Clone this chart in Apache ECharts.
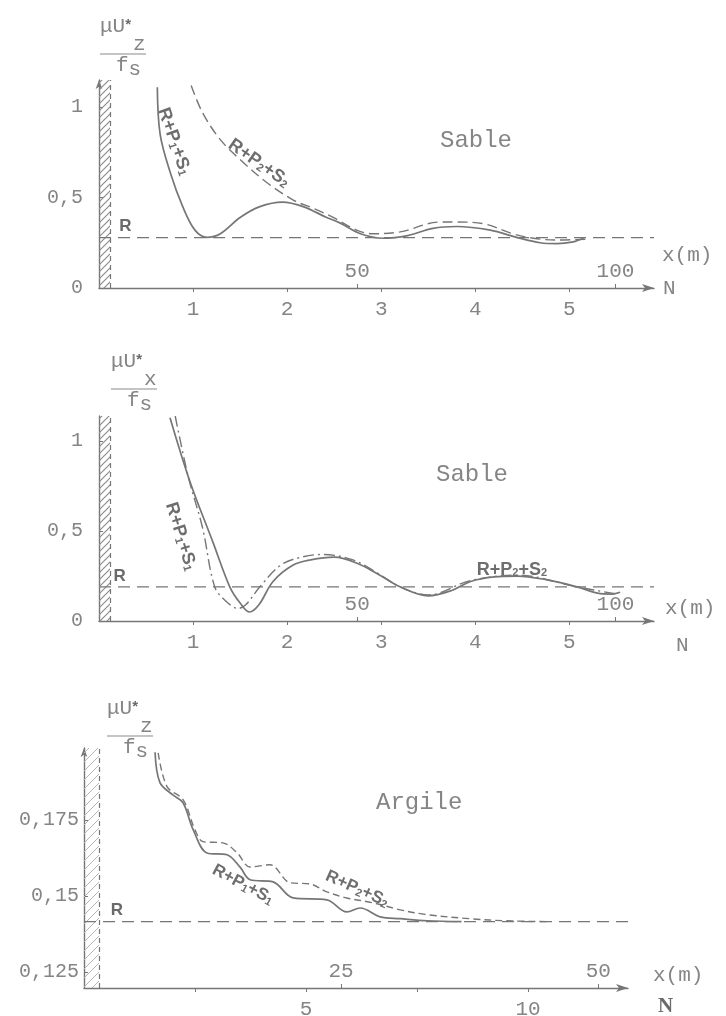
<!DOCTYPE html>
<html><head><meta charset="utf-8">
<script src="https://cdn.jsdelivr.net/npm/echarts@6/dist/echarts.min.js"></script>
<style>html,body{margin:0;padding:0;background:#fff}#c{width:726px;height:1016px}</style>
</head><body><div id="c"></div>
<script>
// ---------------- DATA ----------------
// Panel 1 : Sable, mu*Uz/fs  vs N
const p1SolidN = [0.62,0.65,0.76,0.89,1.02,1.15,1.29,1.5,1.71,1.95,2.17,2.42,2.56,2.78,3.02,3.28,3.55,3.8,4.16,4.44,4.69,4.87,5.04,5.15];
const p1SolidV = [1.11,0.85,0.635,0.45,0.32,0.28,0.30,0.39,0.45,0.475,0.45,0.39,0.36,0.30,0.275,0.29,0.33,0.34,0.32,0.28,0.25,0.245,0.255,0.275];
const p1DashN  = [0.98,1.1,1.29,1.5,1.78,2.07,2.28,2.49,2.74,2.91,3.2,3.63,3.8,4.09,4.4,4.62,4.87,5.19];
const p1DashV  = [1.12,0.97,0.82,0.71,0.585,0.485,0.44,0.39,0.32,0.30,0.31,0.365,0.365,0.355,0.30,0.275,0.265,0.27];
const p1R = 0.278;
// Panel 2 : Sable, mu*Ux/fs vs N
const p2SolidN = [0.755,0.97,1.21,1.39,1.5,1.6,1.7,1.85,2.06,2.25,2.5,2.75,3.0,3.2,3.5,3.75,3.95,4.2,4.45,4.75,5.08,5.3,5.45,5.54];
const p2SolidV = [1.13,0.77,0.44,0.19,0.10,0.05,0.09,0.22,0.31,0.34,0.355,0.32,0.25,0.19,0.14,0.17,0.22,0.245,0.25,0.23,0.19,0.155,0.15,0.16];
const p2DashN  = [0.81,0.95,1.1,1.23,1.35,1.48,1.56,1.71,1.93,2.15,2.38,2.7,2.95,3.2,3.5,3.95,4.45,5.08,5.5];
const p2DashV  = [1.14,0.80,0.52,0.19,0.11,0.07,0.09,0.19,0.31,0.355,0.37,0.34,0.27,0.19,0.145,0.225,0.255,0.19,0.15];
const p2R = 0.19;
// Panel 3 : Argile, mu*Uz/fs vs N
const p3SolidN = [1.6,1.71,2.0,2.23,2.46,2.77,3.22,3.51,3.74,4.26,4.71,5.47,5.92,6.22,6.67,7.12,7.73,8.5];
const p3SolidV = [0.1972,0.1872,0.1832,0.1806,0.1717,0.1641,0.1635,0.1595,0.1553,0.1546,0.1493,0.1487,0.1447,0.146,0.1431,0.1425,0.1418,0.1415];
const p3DashN  = [1.67,1.87,2.23,2.5,2.68,3.13,3.45,3.74,4.19,4.64,5.09,5.47,5.92,6.51,7.12,7.73,8.76,9.5,10.5];
const p3DashV  = [0.197,0.1859,0.1816,0.1717,0.1678,0.1674,0.1641,0.1595,0.1602,0.1543,0.1539,0.1513,0.1493,0.1477,0.1454,0.1438,0.1424,0.1418,0.1415];
const p3R = 0.1415;
// tick values
const p1NTicks = [1,2,3,4,5];
const p1MTicks = [50,100];
const p1YTicks = [0,0.5,1];
const p2NTicks = [1,2,3,4,5];
const p2MTicks = [50,100];
const p2YTicks = [0,0.5,1];
const p3NTicks = [2.5,5,7.5,10];
const p3NLabels = [5,10];
const p3MTicks = [25,50];
const p3YTicks = [0.125,0.15,0.175];
const titles = ['Sable','Sable','Argile'];
const metresPerN = [50/2.745, 50/2.745, 25/5.79];

// ---------------- STYLE ----------------
const MONO = 'Liberation Mono';
const SANS = 'Liberation Sans';
const INK = '#767676';
const TXT = '#858585';

function zip(a,b){return a.map((x,i)=>[x,b[i]]);}
function hatch(color, step, w){
  const c=document.createElement('canvas'); c.width=step; c.height=step;
  const g=c.getContext('2d'); g.strokeStyle=color; g.lineWidth=w;
  g.beginPath(); g.moveTo(0,step); g.lineTo(step,0);
  g.moveTo(-step/2,step/2); g.lineTo(step/2,-step/2);
  g.moveTo(step/2,step*1.5); g.lineTo(step*1.5,step/2);
  g.stroke(); return c;
}
const fmtComma = v => String(+v.toFixed(3)).replace('.',',');

function fracName(sub, dx){
  return {
    name: '{mu|μU}{st|*}\n{z|'+sub+'}\n{bar|}\n{f|f}{s|s}',
    nameTextStyle: {
      align:'left', verticalAlign:'bottom', padding:[0,0,0,dx],
      rich: {
        mu:{fontFamily:MONO,fontSize:21,color:TXT,lineHeight:20,verticalAlign:'bottom'},
        st:{fontFamily:SANS,fontSize:15,fontWeight:'bold',color:'#6a6a6a',lineHeight:20,verticalAlign:'top'},
        z:{fontFamily:MONO,fontSize:21,color:TXT,lineHeight:14,padding:[0,0,0,33]},
        bar:{width:46,height:1,backgroundColor:'#8a8a8a',lineHeight:6},
        f:{fontFamily:MONO,fontSize:21,color:TXT,lineHeight:16,padding:[0,0,0,16]},
        s:{fontFamily:MONO,fontSize:21,color:TXT,lineHeight:16,padding:[9,0,0,0]}
      }
    }
  };
}
const curveLabelRich = {
  b:{fontFamily:SANS,fontSize:11,fontWeight:'bold',color:'#6e6e6e',padding:[7,0,0,0]}
};
function curveLabel(text, coord, rot, size){
  return {
    symbolSize:0, silent:true, animation:false,
    data:[{coord:coord, symbol:'circle', symbolSize:0}],
    label:{show:true, position:'inside', rotate:rot, formatter:text,
      fontFamily:SANS, fontWeight:'bold', fontSize:size||18, color:'#6e6e6e', rich:curveLabelRich}
  };
}

const grids = [
  {left:99, top:80, width:555, height:208},
  {left:99, top:416, width:555, height:205},
  {left:84, top:748, width:544, height:240}
];
const xMax = [5.9, 5.9, 12.25];
const yMin = [0, 0, 0.1197];
const yMax = [1.15, 1.14, 0.1986];
const wallW = [0.117, 0.117, 0.34];

const axisLineStyle = {color:INK, width:1.4};
const xAxes = [], yAxes = [], series = [];

// ---------- panel axes ----------
const nTicks = [p1NTicks, p2NTicks, p3NTicks];
const nLabels = [p1NTicks, p2NTicks, p3NLabels];
const mTicks = [p1MTicks, p2MTicks, p3MTicks];
const yTicks = [p1YTicks, p2YTicks, p3YTicks];
const nName = [
  {nameGap:9, nameTextStyle:{fontFamily:MONO,fontSize:21,color:TXT,align:'left',verticalAlign:'middle'}},
  {nameGap:22, nameTextStyle:{fontFamily:MONO,fontSize:21,color:TXT,align:'left',verticalAlign:'top',padding:[14,0,0,0]}},
  {nameGap:30, nameTextStyle:{fontFamily:'Liberation Serif',fontWeight:'bold',fontSize:21,color:'#6a6a6a',align:'left',verticalAlign:'top',padding:[8,0,0,0]}}
];
const mName = [
  {nameGap:8, nameTextStyle:{fontFamily:MONO,fontSize:21,color:TXT,align:'left',verticalAlign:'bottom',padding:[0,0,22,0]}},
  {nameGap:11, nameTextStyle:{fontFamily:MONO,fontSize:21,color:TXT,align:'left',verticalAlign:'bottom',padding:[0,0,2,0]}},
  {nameGap:25, nameTextStyle:{fontFamily:MONO,fontSize:21,color:TXT,align:'left',verticalAlign:'bottom',padding:[0,0,2,0]}}
];
const yNames = [fracName('z',1), fracName('x',12), fracName('z',23)];
const yNameGap = [7, 8, -7];

for (let i=0;i<3;i++){
  xAxes.push(Object.assign({
    type:'value', gridIndex:i, min:0, max:xMax[i], name:'N', nameLocation:'end',
    axisLine:{show:true, lineStyle:axisLineStyle, symbol:['none','arrow'], symbolSize:[6,12]},
    axisTick:{show:true, length:4, customValues:nTicks[i], lineStyle:{color:INK}},
    axisLabel:{show:true, customValues:nLabels[i], margin:11, fontFamily:MONO, fontSize:21, color:TXT},
    splitLine:{show:false}
  }, nName[i]));
  xAxes.push(Object.assign({
    type:'value', gridIndex:i, min:0, max:xMax[i]*metresPerN[i], name:'x(m)', nameLocation:'end',
    position:'bottom',
    axisLine:{show:false},
    axisTick:{show:true, inside:true, length:4, customValues:mTicks[i], lineStyle:{color:INK}},
    axisLabel:{show:true, inside:true, margin:6, customValues:mTicks[i], fontFamily:MONO, fontSize:21, color:TXT},
    splitLine:{show:false}
  }, mName[i]));
  yAxes.push(Object.assign({
    type:'value', gridIndex:i, min:yMin[i], max:yMax[i], nameLocation:'end', nameGap:yNameGap[i],
    axisLine:{show:true, lineStyle:axisLineStyle, symbol: i===1?['none','none']:['none','arrow'], symbolSize:[5,9]},
    axisTick:{show:true, length:4, inside:true, customValues:yTicks[i], lineStyle:{color:INK}},
    axisLabel:{show:true, customValues:yTicks[i], margin: i===2?5:16, fontFamily:MONO, fontSize:20, color:TXT,
      formatter: v => fmtComma(v)},
    splitLine:{show:false}
  }, yNames[i]));
}

// ---------- panel series ----------
const solids = [[p1SolidN,p1SolidV],[p2SolidN,p2SolidV],[p3SolidN,p3SolidV]];
const dashes = [[p1DashN,p1DashV],[p2DashN,p2DashV],[p3DashN,p3DashV]];
const Rs = [p1R,p2R,p3R];
const dashTypes = [[10,5],[11,4,2,4],[7,4]];
const lbl1 = 'R+P{b|1}+S{b|1}', lbl2 = 'R+P{b|2}+S{b|2}';
const solidLabels = [
  curveLabel(lbl1,[0.80,0.81],-71,18),
  curveLabel(lbl1,[0.87,0.47],-73,18),
  curveLabel(lbl1,[3.58,0.1537],-28,17)
];
const dashLabels = [
  curveLabel(lbl2,[1.70,0.69],-35,18),
  curveLabel(lbl2,[4.39,0.285],0,18),
  curveLabel(lbl2,[6.15,0.1523],-24,17)
];
const rLabelN = [0.28, 0.22, 0.74];
const wallPattern = [hatch('#8c8c8c',7,1.2), hatch('#8c8c8c',7,1.2), hatch('#b4b4b4',9,1)];

for (let i=0;i<3;i++){
  series.push({
    type:'line', xAxisIndex:2*i, yAxisIndex:i, data: zip(solids[i][0], solids[i][1]),
    symbol:'none', smooth:0.35, silent:true, animation:false,
    lineStyle:{color:INK, width:1.7, type:'solid'}, z:4,
    markPoint: solidLabels[i]
  });
  series.push({
    type:'line', xAxisIndex:2*i, yAxisIndex:i, data: zip(dashes[i][0], dashes[i][1]),
    symbol:'none', smooth:0.35, silent:true, animation:false,
    lineStyle:{color:INK, width:1.4, type:dashTypes[i]}, z:4,
    markPoint: dashLabels[i]
  });
  // R asymptote + wall
  series.push({
    type:'line', xAxisIndex:2*i, yAxisIndex:i, data: [[0,Rs[i]],[xMax[i],Rs[i]]],
    symbol:'none', silent:true, animation:false,
    lineStyle:{color:INK, width:1.3, type:[12,7]}, z:3,
    markPoint:{symbolSize:0, silent:true, animation:false,
      data:[{coord:[rLabelN[i],Rs[i]], symbol:'circle', symbolSize:0}],
      label:{show:true, position:'inside', offset:[0,-11], formatter:'R', fontFamily:SANS, fontWeight:'bold', fontSize:17, color:'#6a6a6a'}},
    markArea:{silent:true, animation:false,
      itemStyle:{color:{image:wallPattern[i], repeat:'repeat'}, opacity:1},
      data:[[{xAxis:0, yAxis:yMin[i]},{xAxis:wallW[i], yAxis:yMax[i]}]]},
    markLine:{silent:true, animation:false, symbol:['none','none'], label:{show:false},
      lineStyle:{color:INK, width:1.2, type:[5,4]},
      data:[{xAxis:wallW[i]}]}
  });
}

const option = {
  backgroundColor:'#ffffff',
  animation:false,
  grid: grids.map(g=>Object.assign({containLabel:false, outerBoundsMode:'none'}, g)),
  title: [
    {text:titles[0], left:435, top:124, textStyle:{fontFamily:MONO,fontSize:24,fontWeight:'normal',color:TXT}},
    {text:titles[1], left:431, top:458, textStyle:{fontFamily:MONO,fontSize:24,fontWeight:'normal',color:TXT}},
    {text:titles[2], left:371, top:786, textStyle:{fontFamily:MONO,fontSize:24,fontWeight:'normal',color:TXT}}
  ],
  xAxis: xAxes,
  yAxis: yAxes,
  series: series
};
const chart = echarts.init(document.getElementById('c'), null, {renderer:'canvas'});
chart.setOption(option);
</script>
</body></html>
